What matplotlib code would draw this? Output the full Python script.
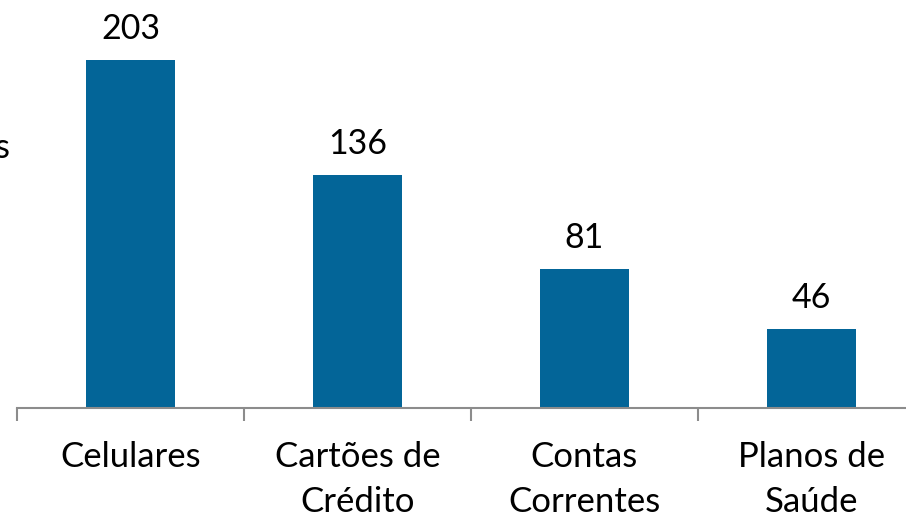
import matplotlib.pyplot as plt

categorias = ["Celulares", "Cartões de\nCrédito", "Contas\nCorrentes", "Planos de\nSaúde"]
valores = [203, 136, 81, 46]

plt.rcParams['font.family'] = ['Lato', 'DejaVu Sans']

W, H = 906, 516
fig = plt.figure(figsize=(W / 100, H / 100), dpi=100)
# axis spans from x=17px past the right edge, baseline at y=408px
ax = fig.add_axes([17 / W, 108 / H, 908 / W, 408 / H])

x = range(len(valores))
ax.bar(x, valores, width=0.396, color="#036598")
for xi, v in zip(x, valores):
    ax.annotate(str(v), (xi, v), xytext=(0, 15), textcoords="offset points",
                ha="center", va="baseline", fontsize=24.5)

ax.set_xlim(-0.5, 3.5)
ax.set_ylim(0, 408 / 1.714)

for s in ["top", "right", "left"]:
    ax.spines[s].set_visible(False)
ax.spines["bottom"].set_color("#8c8c8c")
ax.spines["bottom"].set_linewidth(1.5)
ax.set_yticks([])

ax.set_xticks([-0.5, 0.5, 1.5, 2.5, 3.5])
ax.set_xticklabels([])
ax.tick_params(axis="x", which="major", length=9, width=1.5, color="#8c8c8c")
ax.set_xticks(list(x), categorias, minor=True)
ax.tick_params(axis="x", which="minor", length=0, pad=24, labelsize=25)
for lbl in ax.get_xticklabels(minor=True):
    lbl.set_linespacing(1.5)

fig.text(10 / W, 1 - 148 / H, "s", ha="right", va="center", fontsize=25)

fig.savefig("out.png", dpi=100)
